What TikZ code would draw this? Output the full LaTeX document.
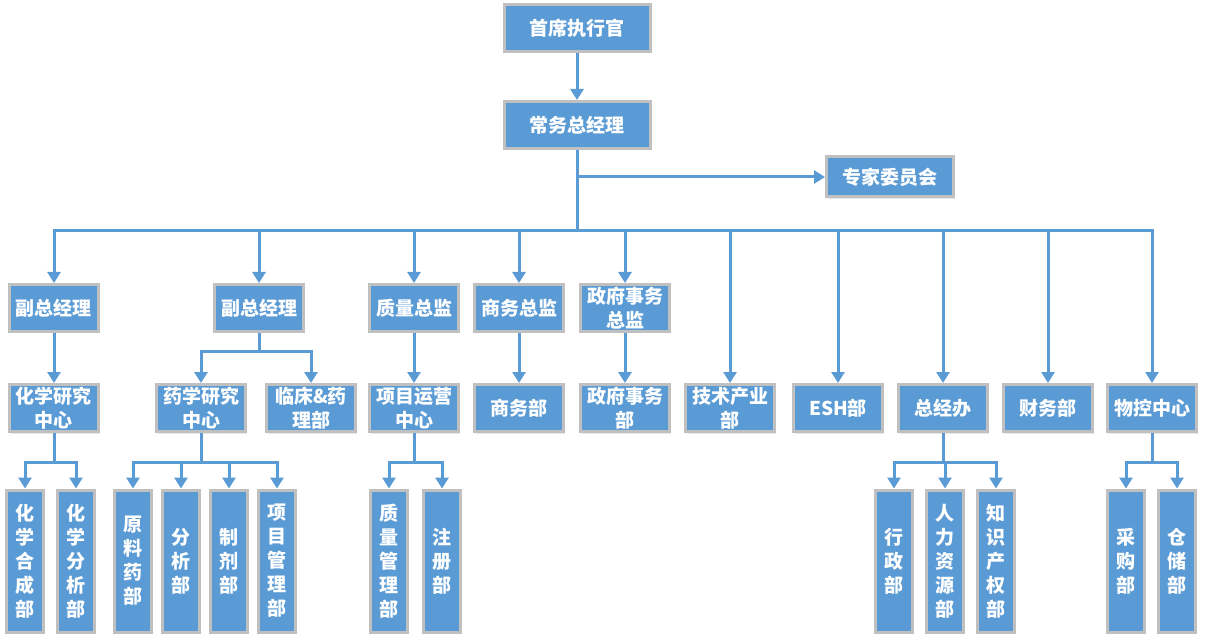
\documentclass[tikz,border=0pt]{standalone}
\usepackage{fontspec}
\newfontfamily\cjk{Noto Sans CJK SC}
\usetikzlibrary{arrows.meta,shadows}
\definecolor{boxblue}{RGB}{91,155,213}
\definecolor{boxgray}{RGB}{192,192,192}
\definecolor{lineblue}{RGB}{91,155,213}
\tikzset{
 box/.style={draw=boxgray, line width=3pt, fill=boxblue, text=white,
   font=\cjk\bfseries\fontsize{19}{24}\selectfont, align=center, inner sep=0pt,
   drop shadow={opacity=0.18,shadow xshift=1.5pt,shadow yshift=-2pt}},
 wide/.style={box, minimum width=146pt, minimum height=47pt},
 expert/.style={box, minimum width=127pt, minimum height=40pt},
 mid/.style={box, minimum width=89pt, minimum height=47pt},
 tall/.style={box, minimum width=37pt, minimum height=142pt},
 ln/.style={draw=lineblue, line width=3pt},
 busline/.style={ln, line cap=rect},
 arr/.style={ln, -{Triangle[width=13pt,length=11pt]}},
}
\begin{document}
\begin{tikzpicture}[x=1pt,y=-1pt]
\useasboundingbox (0,0) rectangle (1205,644);
\fill[white] (0,0) rectangle (1205,644);
% junction rows
\coordinate (bus) at (0,231);
\coordinate (b2) at (0,352);
\coordinate (b4) at (0,462);
% level 0/1
\node[wide] (ceo) at (577,28) {首席执行官};
\node[wide] (coo) at (577,125) {常务总经理};
\node[expert] (exp) at (890,177) {专家委员会};
% level 2
\node[mid] (v1) at (54,308) {副总经理};
\node[mid] (v2) at (259,308) {副总经理};
\node[mid] (q) at (414,308) {质量总监};
\node[mid] (s) at (519,308) {商务总监};
\node[mid] (g) at (625,308) {政府事务\\总监};
% level 3
\node[mid] (c1) at (54,408) {化学研究\\中心};
\node[mid] (p1) at (201,408) {药学研究\\中心};
\node[mid] (lc) at (311,408) {临床\&药\\理部};
\node[mid] (q3) at (414,408) {项目运营\\中心};
\node[mid] (s3) at (519,408) {商务部};
\node[mid] (g3) at (625,408) {政府事务\\部};
\node[mid] (t3) at (730,408) {技术产业\\部};
\node[mid] (esh) at (838,408) {ESH部};
\node[mid] (zb) at (943,408) {总经办};
\node[mid] (cw) at (1048,408) {财务部};
\node[mid] (wk) at (1152,408) {物控中心};
% level 4
\node[tall] (a1) at (25,561) {化\\学\\合\\成\\部};
\node[tall] (a2) at (76,561) {化\\学\\分\\析\\部};
\node[tall] (d1) at (133,561) {原\\料\\药\\部};
\node[tall] (d2) at (181,561) {分\\析\\部};
\node[tall] (d3) at (229,561) {制\\剂\\部};
\node[tall] (d4) at (277,561) {项\\目\\管\\理\\部};
\node[tall] (e1) at (389,561) {质\\量\\管\\理\\部};
\node[tall] (e2) at (442,561) {注\\册\\部};
\node[tall] (h1) at (894,561) {行\\政\\部};
\node[tall] (h2) at (945,561) {人\\力\\资\\源\\部};
\node[tall] (h3) at (996,561) {知\\识\\产\\权\\部};
\node[tall] (w1) at (1126,561) {采\\购\\部};
\node[tall] (w2) at (1177,561) {仓\\储\\部};
% connectors
\draw[arr] (ceo) -- (coo);
\draw[ln] (coo.south) -- (coo.south |- bus);
\draw[arr] (coo.south |- exp) -- (exp);
\draw[busline] (bus -| v1) -- (bus -| wk);
\foreach \n in {v1,v2,q,s,g,t3,esh,zb,cw,wk}
  \draw[arr] (bus -| \n) -- (\n);
\draw[arr] (v1) -- (c1);
\draw[arr] (q) -- (q3);
\draw[arr] (s) -- (s3);
\draw[arr] (g) -- (g3);
% vice GM 2
\draw[ln] (v2.south) -- (v2.south |- b2);
\draw[busline] (b2 -| p1) -- (b2 -| lc);
\foreach \n in {p1,lc} \draw[arr] (b2 -| \n) -- (\n);
% level 4 groups
\draw[ln] (c1.south) -- (c1.south |- b4);
\draw[busline] (b4 -| a1) -- (b4 -| a2);
\foreach \n in {a1,a2} \draw[arr] (b4 -| \n) -- (\n);
\draw[ln] (p1.south) -- (p1.south |- b4);
\draw[busline] (b4 -| d1) -- (b4 -| d4);
\foreach \n in {d1,d2,d3,d4} \draw[arr] (b4 -| \n) -- (\n);
\draw[ln] (q3.south) -- (q3.south |- b4);
\draw[busline] (b4 -| e1) -- (b4 -| e2);
\foreach \n in {e1,e2} \draw[arr] (b4 -| \n) -- (\n);
\draw[ln] (zb.south) -- (zb.south |- b4);
\draw[busline] (b4 -| h1) -- (b4 -| h3);
\foreach \n in {h1,h2,h3} \draw[arr] (b4 -| \n) -- (\n);
\draw[ln] (wk.south) -- (wk.south |- b4);
\draw[busline] (b4 -| w1) -- (b4 -| w2);
\foreach \n in {w1,w2} \draw[arr] (b4 -| \n) -- (\n);
\end{tikzpicture}
\end{document}
